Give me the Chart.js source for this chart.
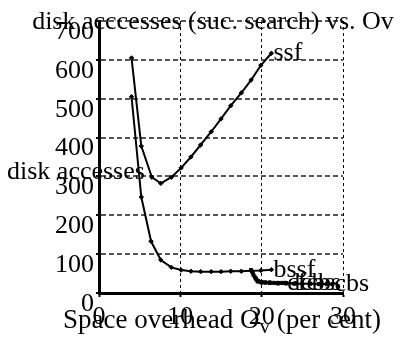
<!DOCTYPE html>
<html><head><meta charset="utf-8">
<script src="https://cdn.jsdelivr.net/npm/chart.js@4/dist/chart.umd.min.js"></script>
<style>html,body{margin:0;padding:0;background:#fff}</style>
</head><body>
<canvas id="c" width="405" height="337" style="width:405px;height:337px;display:block"></canvas>
<script>
const titleText = "disk acccesses (suc. search) vs. Ov";
const yTitle = "disk accesses";
const xTicks = [0, 10, 20, 30];
const yTicks = [0, 100, 200, 300, 400, 500, 600, 700];

const ssfX = [4, 5.2, 6.5, 7.6, 8.9, 10.1, 11.3, 12.5, 13.8, 15.0, 16.2, 17.5, 18.7, 19.9, 21.2];
const ssfY = [605, 378, 298, 282, 298, 322, 350, 381, 415, 448, 482, 515, 548, 586, 617];

const bssfX = [4, 5.2, 6.4, 7.6, 8.9, 10.1, 11.3, 12.5, 13.8, 15.0, 16.2, 17.5, 18.7, 19.9, 21.2];
const bssfY = [505, 247, 133, 85, 66, 59, 56, 55, 55, 55, 56, 56, 57, 58, 60];

const dcbsX = [18.7, 19.0, 19.3, 19.6, 20.0, 20.5, 21.0, 21.5, 22.0, 22.5, 22.9];
const dcbsY = [59, 46, 36, 30, 28, 27, 27, 26, 26, 26, 26];

const fcbsX = [18.9, 19.2, 19.5, 19.9, 20.4, 21.0, 22.0, 23.0, 24.2];
const fcbsY = [52, 40, 32, 28, 27, 26, 25, 25, 25];

const cbsX = [19.5, 20.0, 21.0, 22.0, 23.0, 24.0, 25.0, 26.0, 27.0, 28.0, 28.7];
const cbsY = [30, 27, 26, 25, 25, 24, 24, 24, 23, 23, 23];

const seriesNames = ["ssf", "bssf", "dcbs", "fcbs", "cbs"];
const seriesX = [ssfX, bssfX, dcbsX, fcbsX, cbsX];
const seriesY = [ssfY, bssfY, dcbsY, fcbsY, cbsY];
const seriesMarker = ["rectRot", "rectRot", "rect", "rect", "rect"];

const FONT = "'Liberation Serif', 'Times New Roman', serif";

const datasets = seriesNames.map((name, i) => ({
  label: name,
  data: seriesX[i].map((x, j) => ({x: x, y: seriesY[i][j]})),
  borderColor: '#000',
  backgroundColor: '#000',
  borderWidth: 2,
  pointStyle: seriesMarker[i],
  pointRadius: 2.2,
  pointBorderWidth: 1,
  fill: false,
  tension: 0
}));

const textPlugin = {
  id: 'texts',
  afterDatasetsDraw(chart) {
    const ctx = chart.ctx;
    ctx.save();
    ctx.fillStyle = '#000';
    ctx.font = '26px ' + FONT;
    ctx.textBaseline = 'middle';
    ctx.textAlign = 'left';
    chart.data.datasets.forEach((ds, i) => {
      const meta = chart.getDatasetMeta(i);
      const p = meta.data[meta.data.length - 1];
      ctx.fillText(ds.label, p.x + 2, p.y);
    });
    ctx.restore();
  },
  afterDraw(chart) {
    const ctx = chart.ctx;
    ctx.save();
    ctx.fillStyle = '#000';
    ctx.font = '26px ' + FONT;
    ctx.textBaseline = 'alphabetic';
    ctx.textAlign = 'center';
    ctx.fillText(titleText, 213, 29);
    ctx.textAlign = 'left';
    ctx.fillText(yTitle, 7, 179);
    const p1 = "Space overhead O", sub = "v", p2 = " (per cent)";
    ctx.font = '27px ' + FONT;
    const w1 = ctx.measureText(p1).width, w3 = ctx.measureText(p2).width;
    ctx.font = '21px ' + FONT;
    const w2 = ctx.measureText(sub).width;
    const total = w1 + w2 + w3;
    let x0 = 222 - total / 2;
    const base = 328;
    ctx.font = '27px ' + FONT;
    ctx.fillText(p1, x0, base);
    ctx.font = '21px ' + FONT;
    ctx.fillText(sub, x0 + w1, base + 5);
    ctx.font = '27px ' + FONT;
    ctx.fillText(p2, x0 + w1 + w2, base);
    ctx.restore();
  }
};

new Chart(document.getElementById('c'), {
  type: 'line',
  data: { datasets },
  options: {
    responsive: false,
    animation: false,
    devicePixelRatio: 1,
    layout: { padding: { top: 21, right: 62, left: 0, bottom: 0 } },
    plugins: { legend: { display: false }, title: { display: false }, tooltip: { enabled: false } },
    scales: {
      x: {
        type: 'linear', min: 0, max: 30,
        afterFit(s) { s.height = 44; },
        afterBuildTicks(s) { s.ticks = xTicks.map(v => ({value: v})); },
        ticks: { font: { family: FONT, size: 26 }, color: '#000', padding: 5, maxRotation: 0 },
        grid: { display: true, drawOnChartArea: true, color: '#000', lineWidth: 1, tickLength: 4, tickColor: '#000', tickWidth: 2, tickBorderDash: [] },
        border: { display: true, color: '#000', width: 3, dash: [3, 3] }
      },
      y: {
        type: 'linear', min: 0, max: 700,
        afterFit(s) { s.width = 99; },
        afterBuildTicks(s) { s.ticks = yTicks.map(v => ({value: v})); },
        ticks: { font: { family: FONT, size: 26 }, color: '#000', padding: 2, labelOffset: 11 },
        grid: { display: true, drawOnChartArea: true, color: '#555555', lineWidth: 2, tickLength: 3, tickColor: '#000', tickWidth: 2, tickBorderDash: [] },
        border: { display: true, color: '#000', width: 3, dash: [5, 3] }
      }
    }
  },
  plugins: [textPlugin]
});
</script>
</body></html>
